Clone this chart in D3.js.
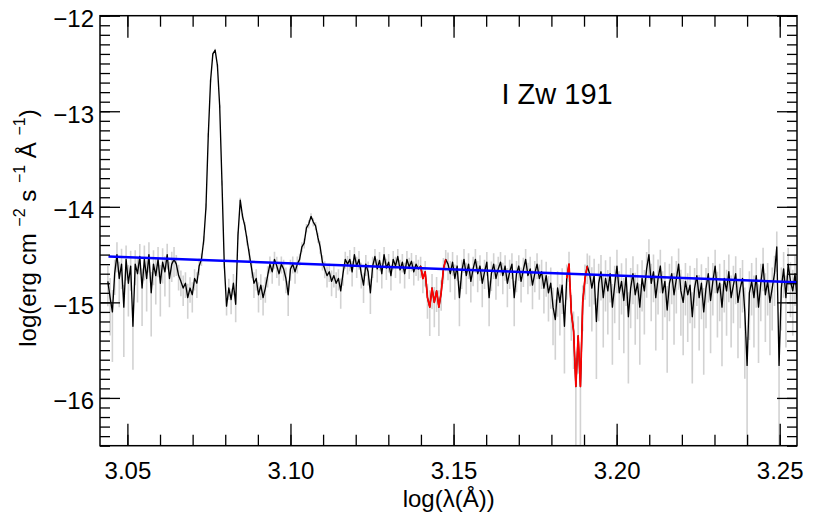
<!DOCTYPE html>
<html>
<head>
<meta charset="utf-8">
<script src="https://cdn.jsdelivr.net/npm/d3@7"></script>
<style>
  body { margin: 0; background: #fff; }
  text { font-family: "Liberation Sans", Arial, Helvetica, sans-serif; }
</style>
</head>
<body>
<div id="chart"></div>
<script>
// spectrum: regular grid in log(lambda)
var wave0 = 3.0440,
    dWave = 0.0007;

// log flux, one value per pixel of the grid
var flux = [
  // 3.044 - 3.065
  -14.78,-14.95,-15.1,-14.7,-14.5,-14.75,-14.6,-15.05,-14.55,-14.8,
  -14.62,-15.25,-14.6,-14.7,-14.52,-14.85,-14.55,-14.75,-14.5,-14.9,
  -14.6,-14.72,-14.55,-14.8,-14.58,-14.68,-14.5,-14.75,-14.6,-14.55,
  // dip before the strong line
  -14.6,-14.72,-14.78,-14.85,-14.8,-14.95,-14.85,-14.92,-14.75,-14.8,-14.62,-14.55,-14.35,
  // strong emission line
  -14.0,-13.25,-12.68,-12.40,-12.36,-12.52,-12.95,-13.75,-14.6,-15.04,
  -14.85,-14.97,-14.8,-15.02,
  // second line
  -14.3,-13.93,-14.1,-14.2,-14.35,-14.5,
  -14.65,-14.8,-14.75,-14.92,-14.82,-14.95,-14.85,-14.72,-14.6,-14.68,
  -14.55,-14.62,-14.7,-14.6,-14.65,-14.75,-14.92,-14.65,-14.6,-14.68,
  -14.6,
  // bump near 3.107
  -14.55,-14.42,-14.38,-14.22,-14.18,-14.1,-14.16,-14.2,-14.32,-14.42,-14.58,-14.65,
  -14.72,-14.68,-14.78,-14.72,-14.8,-14.75,-14.88,-14.7,-14.55,-14.6,
  -14.55,-14.68,-14.5,-14.62,-14.55,-14.7,-14.82,-14.6,-14.68,-14.9,
  -14.62,-14.52,-14.65,-14.56,-14.7,-14.5,-14.64,-14.58,-14.72,-14.55,
  -14.62,-14.52,-14.66,-14.58,-14.7,-14.55,-14.63,-14.57,-14.68,-14.6,
  -14.65,
  // telluric band 1
  -14.62,-14.75,-14.68,-14.95,-15.05,-14.85,-15.0,-14.88,-15.05,-14.9,-14.65,-14.55,
  -14.6,-14.7,-14.58,-14.75,-14.62,-14.95,-14.68,-14.55,-14.72,-14.6,
  -14.78,-14.65,-14.55,-14.7,-14.62,-14.8,-14.68,-14.58,-14.95,-14.7,
  -14.6,-14.75,-14.65,-14.58,-14.72,-14.62,-14.8,-14.68,-14.6,-14.95,
  -14.7,-14.62,-14.78,-14.66,-14.55,-14.72,-14.65,-14.82,-14.7,-14.6,
  -14.75,-14.68,-14.85,-14.72,-14.9,-14.8,-15.05,
  -15.18,-14.85,-15.0,-14.82,-15.25,
  // telluric band 2
  -14.75,-14.6,-15.1,-15.3,-15.88,-15.35,-15.88,-15.0,-14.75,-14.62,
  // 3.191 - 3.255
  -14.7,-14.85,-14.72,-15.2,-14.8,-14.68,-14.95,-14.75,-14.88,-14.7,
  -15.05,-14.82,-14.62,-14.9,-14.78,-14.98,-14.72,-15.15,-14.85,-14.7,
  -14.92,-14.8,-15.05,-14.75,-14.88,-14.65,-14.5,-14.8,-14.68,-14.95,
  -14.75,-14.62,-14.9,-14.78,-15.08,-14.8,-14.7,-14.92,-14.76,-14.6,
  -14.88,-15.0,-14.78,-14.92,-14.82,-15.15,-14.85,-14.72,-14.95,-14.8,
  -15.1,-14.85,-14.7,-14.98,-14.78,-14.62,-14.9,-14.8,-15.05,-14.75,
  -14.88,-14.68,-14.95,-14.82,-14.7,-15.0,-14.85,-14.75,-15.1,-15.66,
  -14.9,-14.78,-14.95,-14.72,-15.05,-14.8,-14.6,-14.92,-14.78,-15.0,
  -14.85,-14.7,-14.42,-15.66,-14.85,-14.65,-14.95,-14.6,-14.78,-14.88,
  -14.7,-15.0
];

// relative error per grid point, in percent
var errPct = [
  45,60,70,40,35,50,45,70,40,55, 45,65,40,50,35,60,40,55,35,65, 40,50,35,55,40,45,30,50,35,35,
  25,30,30,35,30,40,30,35,25,30,20,15,
  10,8,5,4,3,3,3,4,6,10,20,
  25,30,25,35,
  10,6,8,10,12,15,
  20,30,25,35,30,35,30,25,20,25, 20,25,25,20,25,30,40,25,20,25, 20,
  15,12,12,10,10,8,10,10,12,15,18,20,
  25,22,30,25,30,25,35,25,20,22,
  25,30,20,25,22,30,35,25,28,40, 25,20,28,22,30,20,25,22,30,22, 25,20,28,22,30,22,25,22,28,25, 25,
  25,30,30,40,50,40,45,40,50,35,30,25,
  32,36,28,40,30,50,34,28,36,30, 40,34,28,36,30,44,34,28,50,34, 30,40,34,28,36,30,44,34,30,50,
  36,30,40,34,28,36,34,44,36,30, 40,34,46,40,50,46,60,
  62,50,55,50,68,
  40,35,50,60,100,60,100,50,40,35,
  55,65,50,75,60,50,70,55,65,50, 75,60,48,68,55,72,52,80,62,52, 70,58,75,55,65,50,45,60,52,72,
  58,48,68,58,78,60,52,70,56,46, 66,72,56,68,60,80,62,52,72,58, 78,62,50,72,56,48,66,60,76,56,
  66,52,70,60,52,74,62,56,80,100, 68,56,70,54,74,60,48,68,56,72, 64,54,45,100,64,50,70,48,58,66,
  54,72
];

// telluric regions drawn in red (log lambda)
var telluric = [[3.1395, 3.1480], [3.1843, 3.1912]];

// continuum fit
var contWave = [3.0442, 3.2553];
var contFlux = [-14.52, -14.79];

var xTicks = [3.05, 3.10, 3.15, 3.20, 3.25];
var yTicks = [-16, -15, -14, -13, -12];

var objectName = "I Zw 191";

//setup
var width = 830,
    height = 519,
    pLeft = 100, pRight = 797,
    pTop = 15.7, pBottom = 445.7;

var x = d3.scaleLinear().domain([3.0416, 3.2553]).range([pLeft, pRight]);
var y = d3.scaleLinear().domain([-16.5, -12]).range([pBottom, pTop]);

var points = flux.map(function (f, i) {
    var e = (errPct[i] == null ? 30 : errPct[i]) / 100;
    return {
        w: wave0 + i * dWave,
        f: f,
        hi: f + Math.log10(1 + e),
        lo: e >= 1 ? -17 : f + Math.log10(1 - e)
    };
});

var svg = d3.select("#chart").append("svg")
    .attr("width", width)
    .attr("height", height);

svg.append("clipPath").attr("id", "clip")
    .append("rect")
    .attr("x", pLeft).attr("y", pTop)
    .attr("width", pRight - pLeft).attr("height", pBottom - pTop);

var plot = svg.append("g").attr("clip-path", "url(#clip)");

// error bars
plot.append("g").selectAll("line")
    .data(points)
    .enter().append("line")
    .attr("x1", function (d) { return x(d.w); })
    .attr("x2", function (d) { return x(d.w); })
    .attr("y1", function (d) { return y(d.lo); })
    .attr("y2", function (d) { return y(d.hi); })
    .style("stroke", "#d2d2d2")
    .style("stroke-width", 1.6);

var line = d3.line()
    .x(function (d) { return x(d.w); })
    .y(function (d) { return y(d.f); });

// spectrum
plot.append("path")
    .datum(points)
    .attr("d", line)
    .style("fill", "none")
    .style("stroke", "#000")
    .style("stroke-width", 1.35)
    .style("stroke-linejoin", "round");

// telluric parts in red
telluric.forEach(function (r) {
    plot.append("path")
        .datum(points.filter(function (d) { return d.w >= r[0] && d.w <= r[1]; }))
        .attr("d", line)
        .style("fill", "none")
        .style("stroke", "#ff0000")
        .style("stroke-width", 1.7)
        .style("stroke-linejoin", "round");
});

// continuum
plot.append("path")
    .datum(contWave.map(function (w, i) { return { w: w, f: contFlux[i] }; }))
    .attr("d", line)
    .style("fill", "none")
    .style("stroke", "#0000ff")
    .style("stroke-width", 2.4);

//axes
var xMinor = d3.range(3.05, 3.2556, 0.01);
var yMinor = d3.range(-16.5, -11.99, 0.1);

function styleAxis(g) {
    g.select(".domain").remove();
    g.selectAll("line").attr("stroke", "#000").attr("stroke-width", 1.3);
    g.selectAll("text")
        .attr("fill", "#000")
        .style("font-size", "24px")
        .style("font-family", "'Liberation Sans', Arial, Helvetica, sans-serif");
}

// bottom
svg.append("g").attr("transform", "translate(0," + pBottom + ")")
    .call(d3.axisBottom(x).tickValues(xMinor).tickSize(-11).tickSizeOuter(0).tickFormat(""))
    .call(styleAxis);
svg.append("g").attr("transform", "translate(0," + pBottom + ")")
    .call(d3.axisBottom(x).tickValues(xTicks).tickSize(-22).tickSizeOuter(0)
        .tickPadding(16).tickFormat(d3.format(".2f")))
    .call(styleAxis);
// top
svg.append("g").attr("transform", "translate(0," + pTop + ")")
    .call(d3.axisTop(x).tickValues(xMinor).tickSize(-11).tickSizeOuter(0).tickFormat(""))
    .call(styleAxis);
svg.append("g").attr("transform", "translate(0," + pTop + ")")
    .call(d3.axisTop(x).tickValues(xTicks).tickSize(-22).tickSizeOuter(0).tickFormat(""))
    .call(styleAxis);
// left
svg.append("g").attr("transform", "translate(" + pLeft + ",0)")
    .call(d3.axisLeft(y).tickValues(yMinor).tickSize(-10).tickSizeOuter(0).tickFormat(""))
    .call(styleAxis);
svg.append("g").attr("transform", "translate(" + pLeft + ",0)")
    .call(d3.axisLeft(y).tickValues(yTicks).tickSize(-20).tickSizeOuter(0)
        .tickPadding(6).tickFormat(d3.format("d")))
    .call(styleAxis)
    .selectAll("text").attr("dy", "0.46em");
// right
svg.append("g").attr("transform", "translate(" + pRight + ",0)")
    .call(d3.axisRight(y).tickValues(yMinor).tickSize(-10).tickSizeOuter(0).tickFormat(""))
    .call(styleAxis);
svg.append("g").attr("transform", "translate(" + pRight + ",0)")
    .call(d3.axisRight(y).tickValues(yTicks).tickSize(-20).tickSizeOuter(0).tickFormat(""))
    .call(styleAxis);

// frame
svg.append("rect")
    .attr("x", pLeft).attr("y", pTop)
    .attr("width", pRight - pLeft).attr("height", pBottom - pTop)
    .style("fill", "none")
    .style("stroke", "#000")
    .style("stroke-width", 1.5);

//labels
svg.append("text")
    .attr("x", 448.7)
    .attr("y", 506.5)
    .attr("text-anchor", "middle")
    .style("font-size", "24px")
    .text("log(λ(Å))");

var yl = svg.append("text")
    .attr("transform", "translate(36,228) rotate(-90)")
    .attr("text-anchor", "middle")
    .style("font-size", "24px");
yl.append("tspan").text("log(erg cm ");
yl.append("tspan").attr("dy", -11).style("font-size", "16px").text("−2");
yl.append("tspan").attr("dy", 11).text(" s ");
yl.append("tspan").attr("dy", -11).style("font-size", "16px").text("−1");
yl.append("tspan").attr("dy", 11).text(" Å ");
yl.append("tspan").attr("dy", -11).style("font-size", "16px").text("−1");
yl.append("tspan").attr("dy", 11).text(")");

svg.append("text")
    .attr("x", 501.5)
    .attr("y", 104.3)
    .style("font-size", "29px")
    .text(objectName);
</script>
</body>
</html>
